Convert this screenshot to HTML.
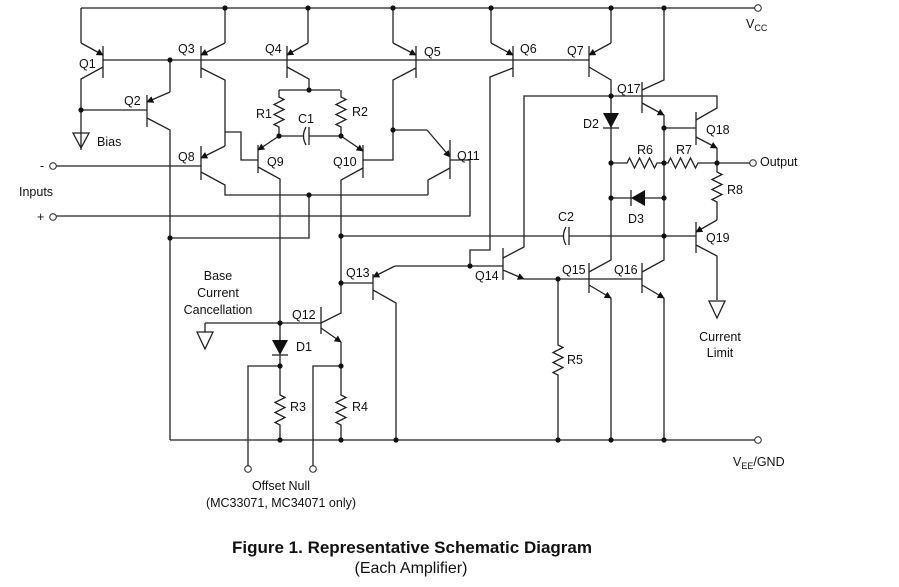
<!DOCTYPE html>
<html><head><meta charset="utf-8"><style>
body{margin:0;background:#fff}
svg{display:block}
text{font-family:"Liberation Sans",sans-serif;font-size:12.5px;fill:#111}
</style></head><body>
<svg width="899" height="587" viewBox="0 0 899 587" xmlns="http://www.w3.org/2000/svg">
<defs>
<marker id="a" viewBox="0 0 10 10" refX="9" refY="5" markerWidth="7" markerHeight="7" orient="auto" markerUnits="userSpaceOnUse"><path d="M0,0 L10,5 L0,10 z" fill="#111"/></marker>
</defs>
<g stroke="#222" stroke-width="1.3" fill="none">
<path d="M81,8 H755"/>
<path d="M170,440 H755"/>
<path d="M103,46 V78"/>
<path d="M81,8 V43"/><path d="M81,43 L103,55" marker-end="url(#a)"/>
<path d="M103,67 L81,79 V150"/>
<path d="M81,110 H147"/>
<path d="M73,133 H89 L81,148 Z"/>
<path d="M103,60 H589"/>
<path d="M147,95 V127"/>
<path d="M170,60 V92"/><path d="M170,92 L147,102" marker-end="url(#a)"/>
<path d="M147,118 L170,130 V440"/>
<path d="M201,46 V78"/>
<path d="M225,8 V43"/><path d="M225,43 L201,55" marker-end="url(#a)"/>
<path d="M201,68 L225,80 V146"/><path d="M225,146 L201,158" marker-end="url(#a)"/>
<path d="M201,146 V180"/>
<path d="M56,166 H201"/>
<path d="M201,172 L225,185 V195 H428"/>
<path d="M309,195 V238 H170"/>
<path d="M225,132 H241 V160 H258"/>
<path d="M258,145 V173"/>
<path d="M279,136 L258,150" marker-end="url(#a)"/>
<path d="M258,167 L280,179 V340"/>
<path d="M287,46 V78"/>
<path d="M308,8 V43"/><path d="M308,43 L287,55" marker-end="url(#a)"/>
<path d="M287,67 L309,79 V90"/>
<path d="M279,90 H340"/>
<path d="M279,90 V97 l5,2.5 l-10,5 l10,5 l-10,5 l10,5 l-10,5 l5,2.5 V136"/>
<path d="M341,90 V97 l5,2.5 l-10,5 l10,5 l-10,5 l10,5 l-10,5 l5,2.5 V136"/>
<path d="M279,136 H303 M309,136 H341"/>
<path d="M309,127 V145"/><path d="M306,127 Q301,136 306,145"/>
<path d="M363,145 V178"/>
<path d="M341,136 L363,151" marker-end="url(#a)"/>
<path d="M363,160 H393 V80 L416,68"/>
<path d="M363,168 L341,180 V313 L321,323"/>
<path d="M416,46 V78"/>
<path d="M393,8 V43"/><path d="M393,43 L416,55" marker-end="url(#a)"/>
<path d="M393,130 H427"/><path d="M427,130 L450,157" marker-end="url(#a)"/>
<path d="M450,140 V179"/>
<path d="M450,160 H470 V216 H56"/>
<path d="M450,168 L428,180 V195"/>
<path d="M341,236 H563 M569,236 H696"/>
<path d="M569,227 V245"/><path d="M566,227 Q561,236 566,245"/>
<path d="M321,307 V334"/>
<path d="M205,323 H321"/>
<path d="M205,323 V332"/><path d="M197,332 H213 L205,349 Z"/>
<path d="M321,328 L341,342" marker-end="url(#a)"/>
<path d="M341,342 V395 l5,2.5 l-10,5 l10,5 l-10,5 l10,5 l-10,5 l5,2.5 V440"/>
<path d="M280,355 V395 l5,2.5 l-10,5 l10,5 l-10,5 l10,5 l-10,5 l5,2.5 V440"/>
<path d="M272,355 H288"/>
<path d="M280,366 H248 V466"/>
<path d="M341,366 H313 V466"/>
<path d="M373,274 V300"/>
<path d="M341,283 H373"/>
<path d="M470,266 H395"/><path d="M395,266 L373,277" marker-end="url(#a)"/>
<path d="M373,290 L396,303 V440"/>
<path d="M503,248 V280"/>
<path d="M470,266 H503"/>
<path d="M470,266 V250 H490 V77 L513,68"/>
<path d="M503,258 L524,247 V96 H717 V108 L696,120"/>
<path d="M503,270 L524,279" marker-end="url(#a)"/>
<path d="M524,279 H642"/>
<path d="M558,279 V345 l5,2.5 l-10,5 l10,5 l-10,5 l10,5 l-10,5 l5,2.5 V440"/>
<path d="M589,263 V293"/>
<path d="M589,272 L611,260 V96"/>
<path d="M589,285 L611,298" marker-end="url(#a)"/>
<path d="M611,298 V440"/>
<path d="M642,263 V293"/>
<path d="M642,272 L664,260 V128"/>
<path d="M642,285 L664,298" marker-end="url(#a)"/>
<path d="M664,298 V440"/>
<path d="M513,46 V77"/>
<path d="M491,8 V43"/><path d="M491,43 L513,55" marker-end="url(#a)"/>
<path d="M589,46 V77"/>
<path d="M611,8 V43"/><path d="M611,43 L589,55" marker-end="url(#a)"/>
<path d="M589,67 L611,80 V96"/>
<path d="M603,128 H619"/>
<path d="M642,82 V113"/>
<path d="M664,8 V80 L642,90"/>
<path d="M642,103 L664,115" marker-end="url(#a)"/>
<path d="M664,115 V128 H696"/>
<path d="M696,112 V145"/>
<path d="M696,137 L717,148" marker-end="url(#a)"/>
<path d="M717,148 V172 l5,2.5 l-10,5 l10,5 l-10,5 l10,5 l-10,5 l5,2.5 V220"/>
<path d="M611,163 H627 l2.5,-5 l5,10 l5,-10 l5,10 l5,-10 l5,10 l2.5,-5 H668 l2.5,-5 l5,10 l5,-10 l5,10 l5,-10 l5,10 l2.5,-5 H750"/>
<path d="M611,198 H664"/>
<path d="M631,190 V206"/>
<path d="M696,222 V253"/>
<path d="M717,220 L696,232" marker-end="url(#a)"/>
<path d="M696,245 L717,256 V300"/>
<path d="M709,301 H725 L717,318 Z"/>
</g>
<path d="M603,113 H619 L611,128 Z" fill="#111"/>
<path d="M272,340 H288 L280,355 Z" fill="#111"/>
<path d="M631,198 L645,190 V206 Z" fill="#111"/>
<g fill="#111">
<circle cx="225" cy="8" r="2.6"/><circle cx="308" cy="8" r="2.6"/><circle cx="393" cy="8" r="2.6"/><circle cx="491" cy="8" r="2.6"/><circle cx="611" cy="8" r="2.6"/><circle cx="664" cy="8" r="2.6"/>
<circle cx="170" cy="60" r="2.6"/><circle cx="81" cy="110" r="2.6"/><circle cx="309" cy="90" r="2.6"/>
<circle cx="279" cy="136" r="2.6"/><circle cx="341" cy="136" r="2.6"/><circle cx="393" cy="130" r="2.6"/>
<circle cx="309" cy="195" r="2.6"/><circle cx="170" cy="238" r="2.6"/><circle cx="341" cy="236" r="2.6"/>
<circle cx="341" cy="283" r="2.6"/><circle cx="470" cy="266" r="2.6"/><circle cx="558" cy="279" r="2.6"/>
<circle cx="280" cy="323" r="2.6"/><circle cx="280" cy="366" r="2.6"/><circle cx="341" cy="366" r="2.6"/>
<circle cx="611" cy="96" r="2.6"/><circle cx="664" cy="128" r="2.6"/><circle cx="611" cy="163" r="2.6"/><circle cx="664" cy="163" r="2.6"/><circle cx="717" cy="163" r="2.6"/>
<circle cx="611" cy="198" r="2.6"/><circle cx="664" cy="198" r="2.6"/><circle cx="664" cy="236" r="2.6"/>
<circle cx="280" cy="440" r="2.6"/><circle cx="341" cy="440" r="2.6"/><circle cx="396" cy="440" r="2.6"/><circle cx="558" cy="440" r="2.6"/><circle cx="611" cy="440" r="2.6"/><circle cx="664" cy="440" r="2.6"/>
</g>
<g fill="#fff" stroke="#222" stroke-width="1">
<circle cx="758" cy="8" r="3.3"/><circle cx="758" cy="440" r="3.3"/><circle cx="753" cy="163" r="3.3"/>
<circle cx="53" cy="166" r="3.3"/><circle cx="53" cy="217" r="3.3"/>
<circle cx="248" cy="469" r="3.3"/><circle cx="313" cy="469" r="3.3"/>
</g>
<text x="79" y="68">Q1</text><text x="124" y="105">Q2</text><text x="178" y="53">Q3</text><text x="265" y="53">Q4</text><text x="424" y="56">Q5</text>
<text x="520" y="53">Q6</text><text x="567" y="55">Q7</text><text x="617" y="93">Q17</text><text x="706" y="134">Q18</text><text x="706" y="242">Q19</text>
<text x="178" y="161">Q8</text><text x="267" y="166">Q9</text><text x="333" y="166">Q10</text><text x="457" y="160">Q11</text>
<text x="292" y="319">Q12</text><text x="346" y="277">Q13</text><text x="475" y="280">Q14</text><text x="562" y="274">Q15</text><text x="614" y="274">Q16</text>
<text x="256" y="118">R1</text><text x="298" y="123">C1</text><text x="352" y="116">R2</text><text x="583" y="128">D2</text>
<text x="637" y="154">R6</text><text x="676" y="154">R7</text><text x="727" y="194">R8</text><text x="628" y="223">D3</text><text x="558" y="221">C2</text>
<text x="567" y="364">R5</text><text x="290" y="411">R3</text><text x="352" y="411">R4</text><text x="296" y="351">D1</text>
<text x="97" y="146">Bias</text>
<text x="40" y="170">-</text><text x="37" y="221">+</text><text x="19" y="196">Inputs</text>
<text x="760" y="166">Output</text>
<text x="746" y="28">V<tspan style="font-size:9px" dy="3">CC</tspan></text>
<text x="733" y="466">V<tspan style="font-size:9px" dy="3">EE</tspan><tspan dy="-3">/GND</tspan></text>
<text x="218" y="280" text-anchor="middle">Base</text><text x="218" y="297" text-anchor="middle">Current</text><text x="218" y="314" text-anchor="middle">Cancellation</text>
<text x="720" y="341" text-anchor="middle">Current</text><text x="720" y="357" text-anchor="middle">Limit</text>
<text x="281" y="490" text-anchor="middle">Offset Null</text><text x="281" y="507" text-anchor="middle">(MC33071, MC34071 only)</text>
<text x="412" y="553" text-anchor="middle" style="font-size:17px;font-weight:bold">Figure 1. Representative Schematic Diagram</text>
<text x="411" y="573" text-anchor="middle" style="font-size:16px">(Each Amplifier)</text>
</svg>
</body></html>
